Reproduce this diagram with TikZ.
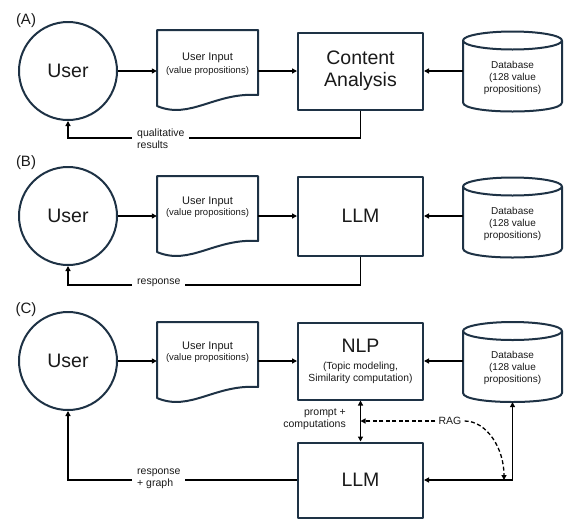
\documentclass[tikz,border=0pt]{standalone}
\usepackage{fontspec}
\setmainfont{Liberation Sans}
\usetikzlibrary{arrows.meta}
\definecolor{outl}{HTML}{1E3245}
\definecolor{txt}{HTML}{1A1A1A}
\tikzset{
  outline/.style={draw=outl, line width=2pt, line join=round},
  usr/.style={circle, outline, minimum size=98pt, inner sep=0pt, text=txt, font=\fontsize{19.5}{22}\selectfont},
  box/.style={rectangle, outline, minimum width=125pt, inner sep=0pt, align=center, text=txt},
  big/.style={font=\fontsize{19.5}{22}\selectfont},
  doctext/.style={minimum width=101pt, inner sep=0pt, align=center, text=txt},
  dbtext/.style={minimum width=99pt, minimum height=68pt, inner sep=0pt, align=center, text=txt, font=\fontsize{10}{12}\selectfont},
  lbl/.style={fill=white, inner xsep=5pt, inner ysep=1pt, align=left, text=txt, font=\fontsize{10.5}{12}\selectfont},
  plabel/.style={inner sep=0pt, text=txt, font=\fontsize{15}{17}\selectfont},
  conn/.style={line width=1.3pt, black, -{Triangle[length=5pt,width=5pt]}},
  conn2/.style={line width=1.3pt, black, {Triangle[length=5pt,width=5pt]}-{Triangle[length=5pt,width=5pt]}},
  dconn/.style={line width=1.3pt, black, dash pattern=on 4pt off 2.5pt, -{Triangle[length=5pt,width=5pt]}},
}
\newcommand{\docshape}[3]{%
  \draw[outline] (#1,#3+76) -- (#1,#3) -- (#2,#3) -- (#2,#3+65)
    .. controls (#2-43,#3+62) and (#1+33,#3+90) .. (#1,#3+76) -- cycle;}
\newcommand{\dbshape}[3]{%
  \draw[outline] (#1-49.5,#2+9) -- (#1-49.5,#3-9)
    .. controls (#1-49.5,#3+3) and (#1+49.5,#3+3) .. (#1+49.5,#3-9) -- (#1+49.5,#2+9);
  \draw[outline] (#1,#2+9) ellipse[x radius=49.5pt, y radius=9pt];}
\newcommand{\docfont}[1]{{\fontsize{11}{13}\selectfont User Input}\\[#1]{\fontsize{9.5}{11}\selectfont (value propositions)}}
\begin{document}
\begin{tikzpicture}[x=1pt,y=-1pt]
\useasboundingbox[fill=white] (0,0) rectangle (564,520);

% ---------------- Panel A ----------------
\node[plabel] (labA) at (26,21) {(A)};
\node[usr] (uA) at (68,71) {User};
\docshape{157}{258}{30}
\node[doctext] (dA) at (207.5,64) {\docfont{1pt}};
\node[box, big, minimum height=77pt] (cA) at (360.5,71) {Content\\Analysis};
\dbshape{512.5}{31.5}{111.5}
\node[dbtext] (bA) at (512.5,77.5) {Database\\(128 value\\propositions)};
\draw[conn] (uA.east) -- (uA.east -| dA.west);
\draw[conn] (dA.east |- cA.west) -- (cA.west);
\draw[conn] (bA.west |- cA.east) -- (cA.east);
\coordinate (fA) at (68,138);
\draw[conn] (cA.south) |- (fA) -- (uA.south);
\node[lbl, anchor=west] (qA) at (132,139) {qualitative\\results};

% ---------------- Panel B ----------------
\node[plabel] (labB) at (26,163) {(B)};
\node[usr] (uB) at (68,216) {User};
\docshape{157}{258}{176}
\node[doctext] (dB) at (207.5,207.5) {\docfont{-1pt}};
\node[box, big, minimum height=79pt] (cB) at (360.5,216) {LLM};
\dbshape{512.5}{177.5}{257.5}
\node[dbtext] (bB) at (512.5,223.5) {Database\\(128 value\\propositions)};
\draw[conn] (uB.east) -- (uB.east -| dB.west);
\draw[conn] (dB.east |- cB.west) -- (cB.west);
\draw[conn] (bB.west |- cB.east) -- (cB.east);
\coordinate (fB) at (68,285);
\draw[conn] (cB.south) |- (fB) -- (uB.south);
\node[lbl, anchor=west] (qB) at (132,283) {response};

% ---------------- Panel C ----------------
\node[plabel] (labC) at (26,310) {(C)};
\node[usr] (uC) at (68,361) {User};
\docshape{157}{258}{322}
\node[doctext] (dC) at (207.5,352.5) {\docfont{-1pt}};
\node[box, minimum height=77pt, font=\fontsize{10.3}{12}\selectfont] (nC) at (360.5,361)
  {{\fontsize{19.5}{22}\selectfont NLP}\\[5pt](Topic modeling,\\Similarity computation)};
\dbshape{512.5}{322}{402}
\node[dbtext] (bC) at (512.5,368) {Database\\(128 value\\propositions)};
\node[box, big, minimum height=75pt] (lC) at (360.5,480) {LLM};
\draw[conn] (uC.east) -- (uC.east -| dC.west);
\draw[conn] (dC.east |- nC.west) -- (nC.west);
\draw[conn] (bC.west |- nC.east) -- (nC.east);
\draw[conn2] (nC.south) -- (lC.north);
\node[lbl, anchor=east, align=right, fill=none] (pC) at (351,419) {prompt +\\computations};
\node[lbl, fill=none, inner xsep=3pt] (rag) at (450,421) {RAG};
\draw[dconn] (rag.west) -- (rag.west -| nC.south);
\coordinate (jC) at (504,480);
\draw[dconn] (rag.east) .. controls +(22,0) and +(0,-32) .. (jC);
\coordinate (kC) at (512.5,480);
\draw[conn2] (lC.east) -- (kC) -- (bC.south);
\coordinate (fC) at (68,480);
\draw[conn] (lC.west) -- (fC) -- (uC.south);
\node[lbl, anchor=west] (qC) at (132,479) {response\\+ graph};
\end{tikzpicture}
\end{document}
